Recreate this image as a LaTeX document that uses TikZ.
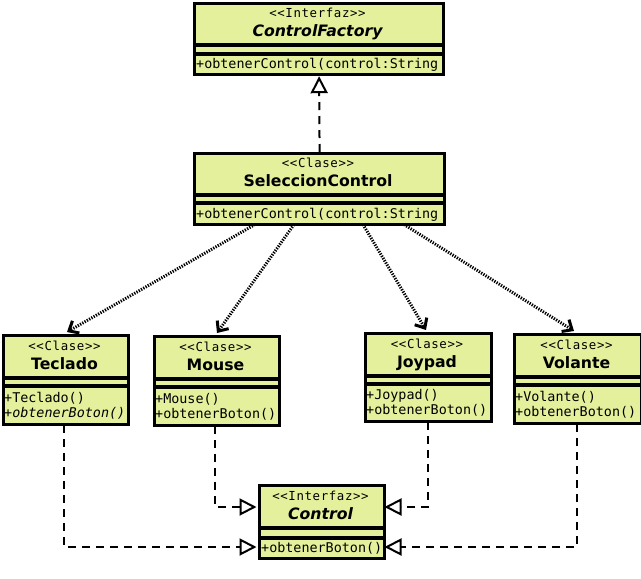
\documentclass[tikz,border=0pt]{standalone}
\usepackage{fontspec}
\usetikzlibrary{arrows.meta}
\newfontfamily\ttlfont{DejaVu Sans}
\newfontfamily\mthfont{DejaVu Sans Mono}
\newfontfamily\stfont{DejaVu Sans Mono}[LetterSpace=5]
\definecolor{boxfill}{RGB}{228,240,155}
\tikzset{
  classbox/.style={draw=black, line width=3.2pt, fill=boxfill, inner sep=0pt, anchor=north west},
  sepline/.style={line width=3.2pt},
  stereo/.style={anchor=base, inner sep=0pt, font=\stfont\fontsize{12.4}{12}\selectfont},
  ttlnode/.style={anchor=base, inner sep=0pt, font=\ttlfont\bfseries\fontsize{15.7}{15}\selectfont},
  ittlnode/.style={ttlnode, font=\ttlfont\bfseries\itshape\fontsize{15.7}{15}\selectfont},
  meth/.style={anchor=base west, inner sep=0pt, font=\mthfont\fontsize{13.4}{16}\selectfont},
  real/.style={line width=2pt, dash pattern=on 8pt off 6pt, -{Triangle[length=17pt,width=17pt,fill=white]}},
  dep/.style={line width=3pt, dash pattern=on 1.3pt off 1.3pt, -{Straight Barb[length=8pt,width=14pt]}},
}
% \umlclass{name}{x1}{y1}{x2}{y2}{sep1}{sep2}
\newcommand{\umlclass}[7]{%
  \node[classbox, minimum width=#4pt-#2pt, minimum height=#5pt-#3pt] (#1) at (#2,#3) {};
  \draw[sepline] (#1.west |- 0,#6) -- (#1.east |- 0,#6);
  \draw[sepline] (#1.west |- 0,#7) -- (#1.east |- 0,#7);
}
\begin{document}
\begin{tikzpicture}[x=1pt,y=-1pt]
\useasboundingbox (0,0) rectangle (641,579);
% boxes
\umlclass{cf}{193}{2}{442}{73}{45}{54}
\umlclass{sc}{193}{152}{443}{223}{195}{203}
\umlclass{tec}{2}{334}{127}{423}{378}{386}
\umlclass{mou}{153}{335}{278}{424}{379}{387}
\umlclass{joy}{364}{332}{490}{420}{376}{384}
\umlclass{vol}{513}{333}{640}{422}{377}{385}
\umlclass{ctl}{258}{484}{383}{557}{528}{538}
% ControlFactory
\node[stereo] (cfs) at (317.5,17) {<<Interfaz>>};
\node[ittlnode] (cft) at (317.5,36) {ControlFactory};
\node[meth] (cfm) at (196,68) {+obtenerControl(control:String};
% SeleccionControl
\node[stereo] (scs) at (318,167) {<<Clase>>};
\node[ttlnode] (sct) at (318,186) {SeleccionControl};
\node[meth] (scm) at (196,218) {+obtenerControl(control:String};
% Teclado
\node[stereo] (tecs) at (64.5,350) {<<Clase>>};
\node[ttlnode] (tect) at (64.5,369) {Teclado};
\node[meth] (tecm1) at (4,402) {+Teclado()};
\node[meth] (tecm2) at (4,417) {+\textit{obtenerBoton()}};
% Mouse
\node[stereo] (mous) at (215.5,351) {<<Clase>>};
\node[ttlnode] (mout) at (215.5,370) {Mouse};
\node[meth] (moum1) at (155,403) {+Mouse()};
\node[meth] (moum2) at (155,418) {+obtenerBoton()};
% Joypad
\node[stereo] (joys) at (427,348) {<<Clase>>};
\node[ttlnode] (joyt) at (427,367) {Joypad};
\node[meth] (joym1) at (366,399) {+Joypad()};
\node[meth] (joym2) at (366,414) {+obtenerBoton()};
% Volante
\node[stereo] (vols) at (576.5,349) {<<Clase>>};
\node[ttlnode] (volt) at (576.5,368) {Volante};
\node[meth] (volm1) at (515,401) {+Volante()};
\node[meth] (volm2) at (515,416) {+obtenerBoton()};
% Control
\node[stereo] (ctls) at (320.5,500) {<<Interfaz>>};
\node[ittlnode] (ctlt) at (320.5,519) {Control};
\node[meth] (ctlm) at (261,552) {+obtenerBoton()};
% connector end points
\coordinate (sc1) at (255,224.5);
\coordinate (sc2) at (294,224.5);
\coordinate (sc3) at (363,224.5);
\coordinate (sc4) at (404,224.5);
\coordinate (tecin) at (67,332);
\coordinate (mouin) at (217,333);
\coordinate (joyin) at (426,330);
\coordinate (volin) at (574,331);
\coordinate (tecout) at (64,425);
\coordinate (mouout) at (215,426);
\coordinate (joyout) at (428,422);
\coordinate (volout) at (577,424);
\coordinate (ctlw1) at (256.5,507);
\coordinate (ctlw2) at (256.5,547);
\coordinate (ctle1) at (384.5,507);
\coordinate (ctle2) at (384.5,547);
% realization SeleccionControl -> ControlFactory
\draw[real] (sc.north) -- (cf.south);
% dependencies
\draw[dep] (sc1) -- (tecin);
\draw[dep] (sc2) -- (mouin);
\draw[dep] (sc3) -- (joyin);
\draw[dep] (sc4) -- (volin);
% realizations to Control
\draw[real] (tecout) |- (ctlw2);
\draw[real] (mouout) |- (ctlw1);
\draw[real] (joyout) |- (ctle1);
\draw[real] (volout) |- (ctle2);
\end{tikzpicture}
\end{document}
